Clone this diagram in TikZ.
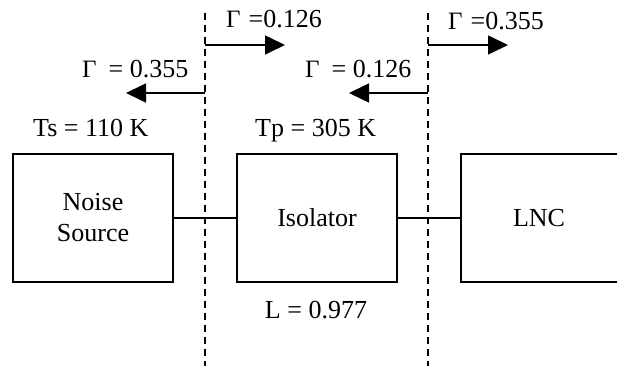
\documentclass[tikz,border=0pt]{standalone}
\usepackage{fontspec}
\setmainfont{Liberation Serif}
\usetikzlibrary{arrows.meta}
\begin{document}
\begin{tikzpicture}[x=1pt,y=-1pt,
  every node/.style={font=\fontsize{26}{31}\selectfont, inner sep=0pt},
  blockbox/.style={draw, line width=1.8pt, minimum width=160pt, minimum height=128pt, align=center},
  divider/.style={line width=1.6pt, dash pattern=on 7pt off 5pt},
  flow/.style={line width=1.6pt, -{Triangle[length=20pt,width=19pt]}},
  wire/.style={line width=1.8pt},
  lbl/.style={anchor=base west}]
\useasboundingbox (0,0) rectangle (617,366);
% blocks
\node[blockbox] (noise) at (93,218) {Noise\\Source};
\node[blockbox] (iso) at (317,218) {Isolator};
\node[minimum width=156pt, minimum height=128pt] (lnc) at (539,218) {LNC};
\draw[wire] (lnc.north east) -- (lnc.north west) -- (lnc.south west) -- (lnc.south east);
% connectors
\draw[wire] (noise.east) -- (iso.west);
\draw[wire] (iso.east) -- (lnc.west);
% reference planes
\coordinate (p1t) at (205,13); \coordinate (p1b) at (205,366);
\coordinate (p2t) at (428,13); \coordinate (p2b) at (428,366);
\draw[divider] (p1t) -- (p1b);
\draw[divider] (p2t) -- (p2b);
% arrows
\coordinate (a1s) at (205,45); \coordinate (a1e) at (285,45);
\coordinate (a2s) at (205,93); \coordinate (a2e) at (126,93);
\coordinate (a3s) at (428,45); \coordinate (a3e) at (508,45);
\coordinate (a4s) at (428,93); \coordinate (a4e) at (349,93);
\draw[flow] (a1s) -- (a1e);
\draw[flow] (a2s) -- (a2e);
\draw[flow] (a3s) -- (a3e);
\draw[flow] (a4s) -- (a4e);
% labels
\node[lbl] (g1) at (226,28) {{\fontsize{25}{25}\selectfont Γ}\hspace{8pt}=0.126};
\node[lbl] (g2) at (448,30) {{\fontsize{25}{25}\selectfont Γ}\hspace{8pt}=0.355};
\node[lbl] (g3) at (82,78) {{\fontsize{25}{25}\selectfont Γ}\hspace{12pt}= 0.355};
\node[lbl] (g4) at (305,78) {{\fontsize{25}{25}\selectfont Γ}\hspace{12pt}= 0.126};
\node[lbl] (ts) at (33,137) {Ts = 110 K};
\node[lbl] (tp) at (255,137) {Tp = 305 K};
\node[anchor=base] (loss) at (316,318) {L = 0.977};
\end{tikzpicture}
\end{document}
